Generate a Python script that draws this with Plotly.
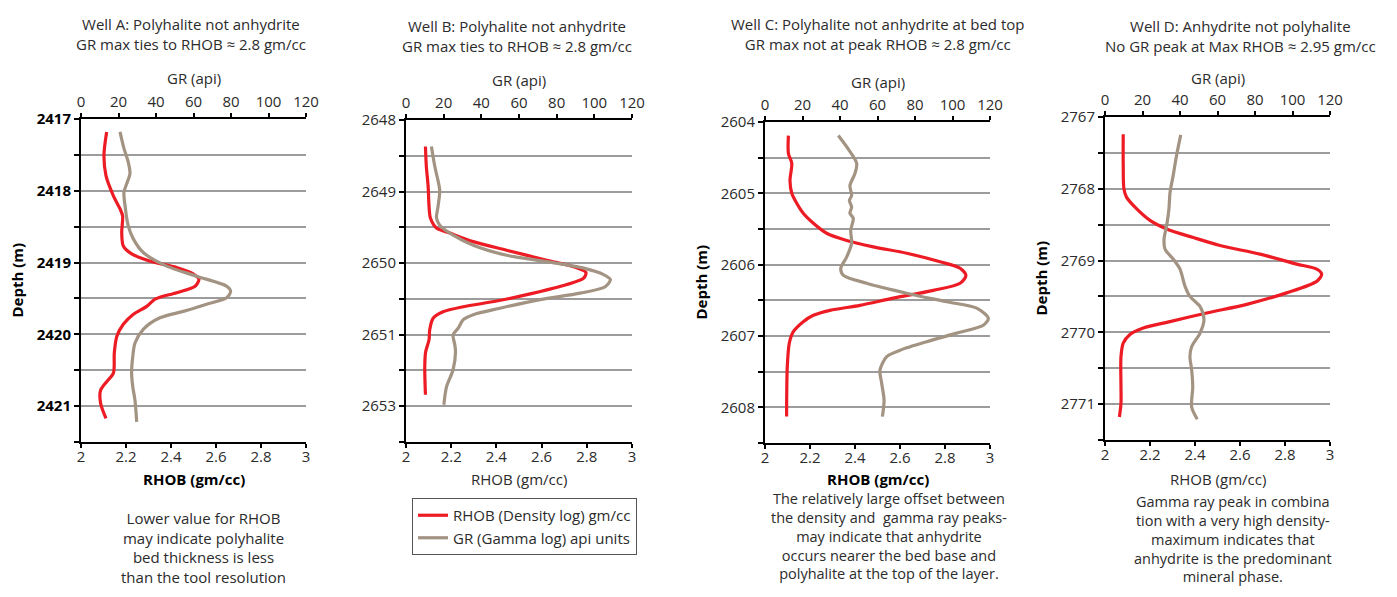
import plotly.graph_objects as go

# ---------------- DATA ----------------
# Well A
depth_rhob_A = [2417.18, 2417.50, 2417.79, 2418.07, 2418.25, 2418.35, 2418.58, 2418.77, 2418.88, 2418.98,
                2419.07, 2419.16, 2419.23, 2419.33, 2419.42, 2419.51, 2419.61, 2419.72, 2419.86, 2420.03,
                2420.26, 2420.54, 2420.66, 2420.78, 2420.96, 2421.17]
rhob_A = [2.114, 2.102, 2.111, 2.144, 2.173, 2.185, 2.181, 2.188, 2.225, 2.307,
          2.425, 2.500, 2.524, 2.507, 2.425, 2.329, 2.292, 2.233, 2.188, 2.159,
          2.148, 2.144, 2.114, 2.087, 2.087, 2.111]
depth_gr_A = [2417.18, 2417.41, 2417.60, 2417.76, 2417.90, 2418.02, 2418.21, 2418.49, 2418.67, 2418.86,
              2419.05, 2419.19, 2419.33, 2419.40, 2419.49, 2419.58, 2419.68, 2419.77, 2419.93, 2420.12,
              2420.31, 2420.54, 2420.73, 2420.92, 2421.22]
gr_A = [20.8, 22.9, 25.2, 26.1, 24.4, 22.9, 23.5, 25.2, 27.9, 33.2,
        45.7, 61.7, 77.7, 79.8, 77.7, 67.0, 54.6, 42.1, 33.2, 28.8,
        27.6, 27.0, 27.6, 28.8, 29.7]

# Well B
depth_rhob_B = [2648.37, 2648.65, 2648.93, 2649.21, 2649.37, 2649.51, 2649.58, 2649.70, 2649.82, 2649.96,
                2650.05, 2650.13, 2650.21, 2650.30, 2650.42, 2650.53, 2650.61, 2650.68, 2650.77, 2650.93,
                2651.07, 2651.24, 2651.45, 2651.84]
rhob_B = [2.086, 2.090, 2.098, 2.102, 2.108, 2.135, 2.194, 2.297, 2.445, 2.623,
          2.741, 2.796, 2.786, 2.712, 2.564, 2.401, 2.253, 2.164, 2.120, 2.105,
          2.102, 2.087, 2.083, 2.086]
depth_gr_B = [2648.37, 2648.65, 2648.98, 2649.21, 2649.37, 2649.47, 2649.61, 2649.75, 2649.89, 2649.98,
              2650.07, 2650.16, 2650.23, 2650.33, 2650.42, 2650.51, 2650.63, 2650.72, 2650.79, 2650.91,
              2651.00, 2651.14, 2651.24, 2651.49, 2651.73, 2651.98]
gr_B = [13.5, 15.3, 17.9, 17.0, 16.2, 17.9, 25.0, 35.7, 53.4, 74.7,
        94.3, 104.9, 108.5, 105.8, 92.5, 71.2, 49.9, 35.7, 30.4, 27.7,
        25.0, 25.9, 26.3, 25.0, 21.5, 20.1]

# Well C
depth_rhob_C = [2604.19, 2604.44, 2604.58, 2604.82, 2605.00, 2605.14, 2605.28, 2605.42, 2605.56, 2605.66,
                2605.75, 2605.84, 2605.96, 2606.05, 2606.15, 2606.26, 2606.36, 2606.47, 2606.57, 2606.64,
                2606.71, 2606.80, 2606.94, 2607.10, 2607.43, 2608.13]
rhob_C = [2.104, 2.104, 2.119, 2.111, 2.119, 2.141, 2.170, 2.215, 2.274, 2.363,
          2.481, 2.630, 2.778, 2.867, 2.893, 2.867, 2.748, 2.570, 2.422, 2.289,
          2.215, 2.170, 2.126, 2.108, 2.099, 2.096]
depth_gr_C = [2604.19, 2604.35, 2604.58, 2604.72, 2604.89, 2605.03, 2605.10, 2605.19, 2605.28, 2605.35,
              2605.52, 2605.70, 2605.89, 2606.05, 2606.15, 2606.26, 2606.40, 2606.52, 2606.61, 2606.75,
              2606.85, 2606.96, 2607.08, 2607.20, 2607.29, 2607.48, 2607.66, 2607.90, 2608.13]
gr_C = [39.1, 43.6, 48.9, 48.0, 45.3, 46.2, 45.0, 46.2, 45.3, 47.1,
        45.7, 46.2, 43.6, 40.4, 41.8, 54.2, 75.6, 96.9, 112.9, 119.1,
        116.4, 102.2, 86.2, 72.0, 64.9, 61.3, 62.2, 63.5, 62.6]

# Well D
depth_rhob_D = [2767.24, 2767.67, 2768.00, 2768.12, 2768.28, 2768.44, 2768.56, 2768.68, 2768.79, 2768.91,
                2769.05, 2769.12, 2769.19, 2769.29, 2769.45, 2769.61, 2769.73, 2769.85, 2769.94, 2770.03,
                2770.15, 2770.34, 2770.76, 2770.99, 2771.18]
rhob_D = [2.081, 2.081, 2.084, 2.096, 2.141, 2.200, 2.274, 2.393, 2.511, 2.689,
          2.852, 2.941, 2.963, 2.941, 2.807, 2.630, 2.452, 2.289, 2.170, 2.111,
          2.081, 2.071, 2.071, 2.071, 2.064]
depth_gr_D = [2767.25, 2767.53, 2767.81, 2768.05, 2768.28, 2768.51, 2768.70, 2768.84, 2768.98, 2769.12,
              2769.36, 2769.50, 2769.64, 2769.82, 2770.01, 2770.20, 2770.34, 2770.52, 2770.76, 2771.04,
              2771.21]
gr_D = [40.4, 38.2, 36.4, 34.7, 34.1, 32.9, 31.5, 32.0, 36.4, 40.0,
        42.7, 45.3, 50.7, 52.8, 50.7, 46.2, 45.3, 46.2, 46.8, 46.2,
        49.2]

# Depth axis ranges (top) and tick labels
depth_top = [2417, 2648, 2604, 2767]
depth_labels_A = ["2417", "2418", "2419", "2420", "2421"]
depth_labels_B = ["2648", "2649", "2650", "2651", "2653"]
depth_labels_C = ["2604", "2605", "2606", "2607", "2608"]
depth_labels_D = ["2767", "2768", "2769", "2770", "2771"]

rhob_ticks = [2, 2.2, 2.4, 2.6, 2.8, 3]
rhob_ticktext = ["2", "2.2", "2.4", "2.6", "2.8", "3"]
gr_ticks = [0, 20, 40, 60, 80, 100, 120]

titles = [
    "Well A: Polyhalite not anhydrite<br>GR max ties to RHOB \u2248 2.8 gm/cc",
    "Well B: Polyhalite not anhydrite<br>GR max ties to RHOB \u2248 2.8 gm/cc",
    "Well C: Polyhalite not anhydrite at bed top<br>GR max not at peak RHOB \u2248 2.8 gm/cc",
    "Well D: Anhydrite not polyhalite<br>No GR peak at Max RHOB \u2248 2.95 gm/cc",
]
notes = {
    0: "Lower value for RHOB<br>may indicate polyhalite<br>bed thickness is less<br>than the tool resolution",
    2: "The relatively large offset between<br>the density and  gamma ray peaks-<br>may indicate that anhydrite<br>occurs nearer the bed base and<br>polyhalite at the top of the layer.",
    3: "Gamma ray peak in combina<br>tion with a very high density-<br>maximum indicates that<br>anhydrite is the predominant<br>mineral phase.",
}

# ---------------- LAYOUT HELPERS ----------------
W, H, OFF = 1381, 581, 8
def px(x):
    return (x - OFF) / W
def py(y):
    return 1 - (y - OFF) / H

FONT = "Open Sans"
RED = "#ED1C24"
GRAY = "#A39382"
TXT = "#2b2b2b"

# plot boxes: left, right, top, bottom (screen px)
boxes = [(81, 306, 119, 442), (406, 632, 120, 442), (765, 990, 122, 443), (1105, 1330, 117, 440)]
title_cx = [191, 517, 877, 1240]
title_cy = [34, 36, 34, 36]
gr_title_y = [78, 80, 82, 78]
depth_title_x = [16, None, 700, 1040]
note_cx = [203, None, 889, 1233]
note_top = [506, None, 487, 490]
note_size = [15, None, 14.5, 14.5]

rhob_sets = [(depth_rhob_A, rhob_A), (depth_rhob_B, rhob_B), (depth_rhob_C, rhob_C), (depth_rhob_D, rhob_D)]
gr_sets = [(depth_gr_A, gr_A), (depth_gr_B, gr_B), (depth_gr_C, gr_C), (depth_gr_D, gr_D)]
depth_labels = [depth_labels_A, depth_labels_B, depth_labels_C, depth_labels_D]

fig = go.Figure()
annotations = []
layout = {}

for i in range(4):
    n = i + 1
    nt = i + 5
    l, r, t, b = boxes[i]
    xs = "" if n == 1 else str(n)
    d, v = rhob_sets[i]
    fig.add_trace(go.Scatter(x=v, y=d, mode="lines", xaxis="x" + xs, yaxis="y" + xs,
                             line=dict(color=RED, width=3.2, shape="spline", smoothing=0.8),
                             name="RHOB (Density log) gm/cc", showlegend=(i == 0)))
    d, v = gr_sets[i]
    fig.add_trace(go.Scatter(x=v, y=d, mode="lines", xaxis="x" + str(nt), yaxis="y" + xs,
                             line=dict(color=GRAY, width=3.2, shape="spline", smoothing=0.8),
                             name="GR (Gamma log) api units", showlegend=(i == 0)))
    top = depth_top[i]
    bot = top + 4.5
    tv = [top + 0.5 * k for k in range(10)]
    tt = [depth_labels[i][k // 2] if k % 2 == 0 else "" for k in range(10)]
    bold = (i == 0)
    layout["xaxis" + xs] = dict(domain=[px(l), px(r)], anchor="y" + xs, range=[2, 3], automargin=False,
                                tickvals=rhob_ticks, ticktext=rhob_ticktext, ticks="outside",
                                ticklen=4, tickwidth=1.5, tickcolor="black", showline=True,
                                linecolor="black", linewidth=2, showgrid=False, zeroline=False,
                                ticklabelstandoff=-4,
                                tickfont=dict(family=FONT, size=15, color=TXT))
    layout["xaxis" + str(nt)] = dict(overlaying="x" + xs, side="top", anchor="y" + xs, range=[0, 120],
                                     automargin=False,
                                     tickvals=gr_ticks, ticks="outside", ticklen=4, tickwidth=1.5,
                                     tickcolor="black", showline=True, linecolor="black", linewidth=2,
                                     showgrid=False, zeroline=False,
                                     tickfont=dict(family=FONT, size=15, color=TXT))
    layout["yaxis" + xs] = dict(domain=[py(b), py(t)], anchor="x" + xs, range=[bot, top], automargin=False,
                                tickvals=tv, ticktext=tt, ticks="outside", ticklen=5, tickwidth=1.5,
                                tickcolor="black", showline=True, linecolor="black", linewidth=2,
                                showgrid=True, gridcolor="#9c9c9c", gridwidth=1.5, zeroline=False,
                                tickfont=dict(family=FONT, size=15, color="black" if bold else TXT,
                                              weight="bold" if bold else "normal"))
    cx = (l + r) / 2
    annotations.append(dict(text=titles[i], x=px(title_cx[i]), y=py(title_cy[i]), xref="paper", yref="paper",
                            showarrow=False, xanchor="center", yanchor="middle",
                            font=dict(family=FONT, size=15, color=TXT)))
    annotations.append(dict(text="GR (api)", x=px(cx), y=py(gr_title_y[i]), xref="paper", yref="paper",
                            showarrow=False, xanchor="center", yanchor="middle",
                            font=dict(family=FONT, size=15, color=TXT)))
    rb = i in (0, 2)
    annotations.append(dict(text="<b>RHOB (gm/cc)</b>" if rb else "RHOB (gm/cc)", x=px(cx), y=py(479),
                            xref="paper", yref="paper", showarrow=False, xanchor="center", yanchor="middle",
                            font=dict(family=FONT, size=15, color="black" if rb else TXT)))
    if depth_title_x[i] is not None:
        annotations.append(dict(text="<b>Depth (m)</b>", x=px(depth_title_x[i]), y=py((t + b) / 2),
                                xref="paper", yref="paper", showarrow=False, textangle=-90,
                                xanchor="center", yanchor="middle",
                                font=dict(family=FONT, size=15, color="black")))
    if i in notes:
        annotations.append(dict(text=notes[i], x=px(note_cx[i]), y=py(note_top[i]), xref="paper", yref="paper",
                                showarrow=False, xanchor="center", yanchor="top", align="center",
                                font=dict(family=FONT, size=note_size[i], color=TXT)))

fig.update_layout(
    template="none",
    width=W, height=H,
    margin=dict(l=0, r=0, t=0, b=0, pad=0, autoexpand=False),
    paper_bgcolor="white", plot_bgcolor="white",
    annotations=annotations,
    showlegend=True,
    legend=dict(x=px(412), y=py(498), xanchor="left", yanchor="top", bordercolor="#555555",
                borderwidth=1, bgcolor="white", font=dict(family=FONT, size=15, color=TXT),
                itemwidth=30, tracegroupgap=0),
    **layout,
)

fig.write_html("out.html")
